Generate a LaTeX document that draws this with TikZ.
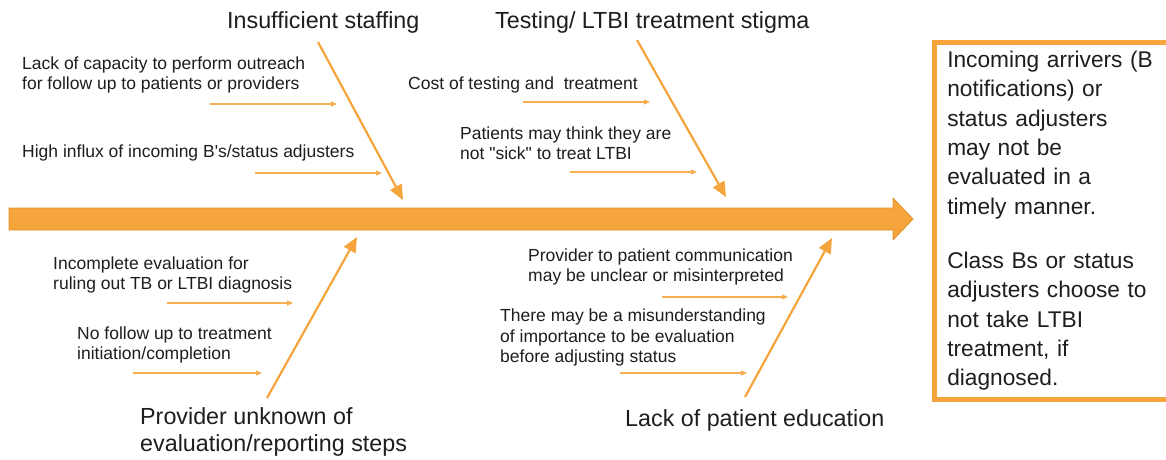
\documentclass[tikz,border=0pt]{standalone}
\usepackage{fontspec}
\setmainfont{Liberation Sans}[Ligatures=TeXOff]
\usetikzlibrary{arrows.meta}
\definecolor{bone}{HTML}{F5A53B}
\definecolor{boneedge}{HTML}{E0902A}
\definecolor{ink}{HTML}{1E1E1E}
\tikzset{
  cause/.style={anchor=west, inner sep=0pt, align=left, text=ink,
    font=\fontsize{17.5}{20.5}\selectfont},
  category/.style={anchor=west, inner sep=0pt, align=left, text=ink,
    font=\fontsize{23.3}{27}\selectfont},
  rib/.style={draw=bone, line width=2.2pt, -{Triangle[length=15pt,width=13pt]}},
  twig/.style={draw=bone!90, line width=1.2pt, -{Triangle[length=6pt,width=5pt]}},
  effect/.style={draw=bone, line width=4.5pt, inner xsep=13pt, inner ysep=0pt,
    minimum height=357pt, text width=222pt, align=left, text=ink,
    font=\fontsize{22.7}{29.3}\selectfont}
}
\begin{document}
\begin{tikzpicture}[x=1pt,y=-1pt]
\clip (0,0) rectangle (1166,459);
\fill[white] (0,0) rectangle (1166,459);

% spine
\filldraw[fill=bone, draw=boneedge, line width=0.8pt, line join=round]
  (9,208) -- (893,208) -- (893,198) -- (913,219) -- (893,240) -- (893,230) -- (9,230) -- cycle;

% effect box
\node[effect, anchor=north west] (effect) at (932,40) {Incoming arrivers (B\\notifications) or\\status adjusters\\may not be\\evaluated in a\\timely manner.\\[25pt]Class Bs or status\\adjusters choose to\\not take LTBI\\treatment, if\\diagnosed.};

% category labels
\node[category] (staff) at (227,22) {Insufficient staffing};
\node[category] (stigma) at (495,22) {Testing/ LTBI treatment stigma};
\node[category] (prov) at (140,431.5) {Provider unknown of\\evaluation/reporting steps};
\node[category] (educ) at (625,420) {Lack of patient education};

% causes
\node[cause] (c1) at (22,75) {Lack of capacity to perform outreach\\for follow up to patients or providers};
\node[cause] (c2) at (22,153) {High influx of incoming B's/status adjusters};
\node[cause] (c3) at (408,85) {Cost of testing and\ \ treatment};
\node[cause] (c4) at (460,143) {Patients may think they are\\not "sick" to treat LTBI};
\node[cause] (c5) at (53,275) {Incomplete evaluation for\\ruling out TB or LTBI diagnosis};
\node[cause] (c6) at (77,345) {No follow up to treatment\\initiation/completion};
\node[cause] (c7) at (528,267) {Provider to patient communication\\may be unclear or misinterpreted};
\node[cause] (c8) at (500,337.5) {There may be a misunderstanding\\of importance to be evaluation\\before adjusting status};

% rib end points
\coordinate (r1a) at (318,42);  \coordinate (r1b) at (403,200);
\coordinate (r2a) at (637,40);  \coordinate (r2b) at (726,197);
\coordinate (r3a) at (267,398); \coordinate (r3b) at (357,237);
\coordinate (r4a) at (745,397); \coordinate (r4b) at (832,238);
\draw[rib] (r1a) -- (r1b);
\draw[rib] (r2a) -- (r2b);
\draw[rib] (r3a) -- (r3b);
\draw[rib] (r4a) -- (r4b);

% twig end points
\coordinate (t1a) at (210,104); \coordinate (t1b) at (337,104);
\coordinate (t2a) at (255,173); \coordinate (t2b) at (382,173);
\coordinate (t3a) at (523,102); \coordinate (t3b) at (650,102);
\coordinate (t4a) at (570,172); \coordinate (t4b) at (697,172);
\coordinate (t5a) at (167,303); \coordinate (t5b) at (293,303);
\coordinate (t6a) at (133,373); \coordinate (t6b) at (262,373);
\coordinate (t7a) at (662,297); \coordinate (t7b) at (788,297);
\coordinate (t8a) at (620,373); \coordinate (t8b) at (747,373);
\foreach \t in {1,...,8} \draw[twig] (t\t a) -- (t\t b);
\end{tikzpicture}
\end{document}
